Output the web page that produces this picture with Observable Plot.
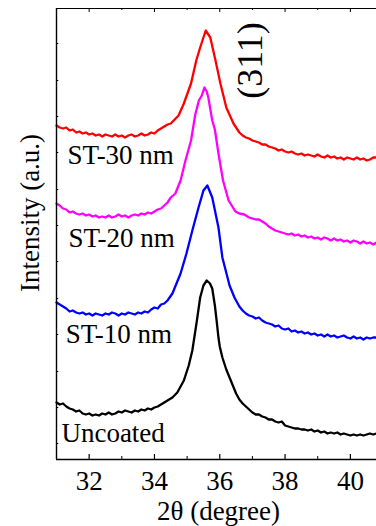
<!DOCTYPE html>
<html>
<head>
<meta charset="utf-8">
<script src="https://cdn.jsdelivr.net/npm/d3@7"></script>
<script src="https://cdn.jsdelivr.net/npm/@observablehq/plot@0.6"></script>
<style>
  html, body { margin: 0; padding: 0; background: #fff; }
  #chart svg { display: block; }
  #chart svg text { font-family: "Liberation Serif", "Times New Roman", serif !important; }
</style>
</head>
<body>
<div id="chart"></div>
<script>
// [2θ (degree), intensity (a.u.)]
const uncoated = [[31.0,57],[31.1,55],[31.2,56],[31.3,53],[31.4,51],[31.5,50],[31.6,48],[31.7,49],[31.8,46],[31.9,45],[32.0,46],[32.1,44],[32.2,45],[32.3,44],[32.4,46],[32.5,45],[32.6,47],[32.7,45],[32.8,46],[32.9,48],[33.0,47],[33.1,49],[33.2,48],[33.3,47],[33.4,49],[33.5,48],[33.6,50],[33.7,49],[33.8,51],[33.9,50],[34.0,52],[34.1,53],[34.2,55],[34.3,57],[34.4,59],
  [34.55,62],[34.7,67],[34.9,79],[35.05,94],[35.16,109],[35.3,139],[35.4,162],[35.5,174],[35.6,179],[35.7,176],[35.77,171],[35.85,154],[35.9,140],[35.96,122],[36.0,113],[36.08,102],[36.2,90],[36.3,82],[36.4,74],[36.5,66],[36.6,60],[36.7,56],[36.8,53],[36.9,50],
  [37.0,47],[37.1,45],[37.2,45],[37.3,43],[37.4,42],[37.5,40],[37.6,40],[37.7,38],[37.8,37],[37.9,38],[38.0,34],[38.1,33],[38.2,32],[38.3,31],[38.4,31],[38.5,30],[38.6,30],[38.7,29],[38.8,30],[38.9,28],[39.0,29],[39.1,27],[39.2,28],[39.3,26],[39.4,27],[39.5,26],[39.6,27],[39.7,25],[39.8,26],[39.9,25],[40.0,24],[40.1,25],[40.2,24],[40.3,25],[40.4,24],[40.5,25],[40.6,26],[40.7,25],[40.8,26]];

const st10 = [[31.0,157],[31.1,155],[31.2,153],[31.3,151],[31.4,148],[31.5,149],[31.6,147],[31.7,146],[31.8,147],[31.9,145],[32.0,146],[32.1,144],[32.2,146],[32.3,145],[32.4,144],[32.5,146],[32.6,145],[32.7,147],[32.8,146],[32.9,144],[33.0,146],[33.1,145],[33.2,147],[33.3,146],[33.4,145],[33.5,147],[33.6,146],[33.7,148],[33.8,147],[33.9,150],[34.0,152],[34.1,151],[34.2,155],[34.3,156],[34.4,159],
  [34.55,166],[34.8,186],[34.98,206],[35.16,229],[35.35,252],[35.5,269],[35.62,274],[35.77,262],[35.96,232],[36.08,202],[36.3,174],[36.45,162],[36.6,153],[36.7,149],
  [36.8,146],[36.9,144],[37.0,143],[37.1,141],[37.2,142],[37.3,139],[37.4,137],[37.5,136],[37.6,135],[37.7,133],[37.8,134],[37.9,131],[38.0,130],[38.1,131],[38.2,128],[38.3,129],[38.4,127],[38.5,128],[38.6,126],[38.7,127],[38.8,125],[38.9,126],[39.0,124],[39.1,125],[39.2,123],[39.3,125],[39.4,123],[39.5,124],[39.6,122],[39.7,123],[39.8,124],[39.9,122],[40.0,121],[40.1,123],[40.2,121],[40.3,122],[40.4,120],[40.5,122],[40.6,121],[40.7,122],[40.8,122]];

const st20 = [[31.0,256],[31.1,254],[31.2,251],[31.3,250],[31.4,247],[31.5,248],[31.6,246],[31.7,245],[31.8,246],[31.9,244],[32.0,245],[32.1,243],[32.2,244],[32.3,242],[32.4,243],[32.5,242],[32.6,244],[32.7,242],[32.8,243],[32.9,245],[33.0,243],[33.1,244],[33.2,242],[33.3,244],[33.4,245],[33.5,244],[33.6,246],[33.7,245],[33.8,247],[33.9,246],[34.0,248],[34.1,250],[34.2,251],[34.3,254],
  [34.4,257],[34.5,262],[34.64,266],[34.8,279],[34.95,299],[35.12,319],[35.25,345],[35.36,359],[35.45,364],[35.53,372],[35.6,368],[35.65,362],[35.77,339],[35.85,330],[35.96,306],[36.1,279],[36.27,259],[36.48,248],[36.6,246],[36.75,245],
  [36.9,242],[37.0,241],[37.1,240],[37.2,240],[37.3,238],[37.4,236],[37.5,233],[37.6,231],[37.7,229],[37.8,228],[37.9,227],[38.0,226],[38.1,225],[38.2,226],[38.3,224],[38.4,225],[38.5,223],[38.6,224],[38.7,222],[38.8,223],[38.9,221],[39.0,222],[39.1,220],[39.2,222],[39.3,221],[39.4,219],[39.5,221],[39.6,219],[39.7,220],[39.8,218],[39.9,219],[40.0,217],[40.1,219],[40.2,218],[40.3,216],[40.4,218],[40.5,216],[40.6,217],[40.7,215],[40.8,217]];

const st30 = [[31.0,334],[31.1,332],[31.2,331],[31.3,332],[31.4,329],[31.5,330],[31.6,327],[31.7,328],[31.8,326],[31.9,327],[32.0,325],[32.1,326],[32.2,324],[32.3,325],[32.4,323],[32.5,325],[32.6,324],[32.7,323],[32.8,325],[32.9,323],[33.0,324],[33.1,322],[33.2,324],[33.3,325],[33.4,323],[33.5,324],[33.6,326],[33.7,324],[33.8,325],[33.9,327],[34.0,326],[34.1,329],[34.2,331],[34.3,333],[34.4,335],
  [34.5,336],[34.62,340],[34.74,344],[34.9,356],[35.12,376],[35.28,399],[35.4,412],[35.57,429],[35.71,422],[35.87,399],[36.02,376],[36.2,352],[36.42,336],[36.6,327],[36.7,324],
  [36.8,322],[36.9,321],[37.0,319],[37.1,318],[37.2,317],[37.3,315],[37.4,315],[37.5,313],[37.6,312],[37.7,311],[37.8,309],[37.9,310],[38.0,308],[38.1,307],[38.2,308],[38.3,306],[38.4,305],[38.5,306],[38.6,304],[38.7,305],[38.8,304],[38.9,303],[39.0,305],[39.1,303],[39.2,302],[39.3,304],[39.4,302],[39.5,303],[39.6,301],[39.7,302],[39.8,300],[39.9,302],[40.0,301],[40.1,300],[40.2,302],[40.3,300],[40.4,301],[40.5,299],[40.6,300],[40.7,302],[40.8,302]];

const seriesNames  = ["Uncoated", "ST-10 nm", "ST-20 nm", "ST-30 nm"];
const seriesColors = ["#000000", "#0000ff", "#ff00ff", "#ff0000"];
const labelX = [31.15, 31.28, 31.37, 31.34];
const labelY = [18, 117, 213, 296];

const xMajorTicks = [32, 34, 36, 38, 40];
const xMinorTicks = [33, 35, 37, 39];
const yTicks = [16, 52, 88, 125, 161, 198, 234, 270, 307, 343, 379, 416];
const peakLabel = "(311)";
const peakX = 36.93, peakY = 399;

const xDomain = [31, 40.8];
const yDomain = [0, 451];

const sets = [uncoated, st10, st20, st30];
const rows = [];
sets.forEach((pts, k) => pts.forEach(([t, v]) => rows.push({theta: t, I: v, s: seriesNames[k]})));
const labels = seriesNames.map((n, k) => ({n, x: labelX[k], y: labelY[k]}));

const F = "Liberation Serif";
const FS = 27;
const chart = Plot.plot({
  width: 376,
  height: 526,
  marginLeft: 56,
  marginRight: 0,
  marginTop: 8,
  marginBottom: 67,
  style: {background: "#fff", fontFamily: F, overflow: "visible"},
  x: {domain: xDomain, axis: null},
  y: {domain: yDomain, axis: null},
  color: {domain: seriesNames, range: seriesColors},
  marks: [
    Plot.line(rows, {x: "theta", y: "I", z: "s", stroke: "s", strokeWidth: 2.3, strokeLinejoin: "round"}),
    // frame
    Plot.ruleY([yDomain[0]], {stroke: "#000", strokeWidth: 1.4}),
    Plot.ruleY([yDomain[1]], {stroke: "#000", strokeWidth: 1.2}),
    Plot.ruleX([xDomain[0]], {stroke: "#000", strokeWidth: 1.4}),
    // inward ticks
    Plot.ruleX(xMajorTicks, {y1: 0, y2: 5, stroke: "#000", strokeWidth: 1.2}),
    Plot.ruleX(xMinorTicks, {y1: 0, y2: 3, stroke: "#000", strokeWidth: 1}),
    Plot.ruleX(xMajorTicks, {y1: 451, y2: 447, stroke: "#000", strokeWidth: 1}),
    Plot.ruleX(xMinorTicks, {y1: 451, y2: 449, stroke: "#000", strokeWidth: 1}),
    Plot.ruleY(yTicks, {x1: 31, x2: 31.07, stroke: "#000", strokeWidth: 1}),
    Plot.axisX(xMajorTicks, {tickSize: 0, tickPadding: 11, fontSize: FS, fontFamily: F, fill: "#000"}),
    Plot.text(["2θ (degree)"], {frameAnchor: "bottom", dx: 2, dy: 60, lineAnchor: "bottom", fontSize: FS, fontFamily: F, fill: "#000"}),
    Plot.text(["Intensity (a.u.)"], {frameAnchor: "left", dx: -26, dy: -21, rotate: -90, textAnchor: "middle", lineAnchor: "middle", fontSize: FS, fontFamily: F, fill: "#000"}),
    Plot.text(labels, {x: "x", y: "y", text: "n", textAnchor: "start", lineAnchor: "bottom", fontSize: FS, fontFamily: F, fill: "#000"}),
    Plot.text([peakLabel], {x: () => peakX, y: () => peakY, rotate: -90, textAnchor: "middle", lineAnchor: "middle", fontSize: 36, fontFamily: F, fill: "#000"})
  ]
});
document.getElementById("chart").appendChild(chart);
</script>
</body>
</html>
